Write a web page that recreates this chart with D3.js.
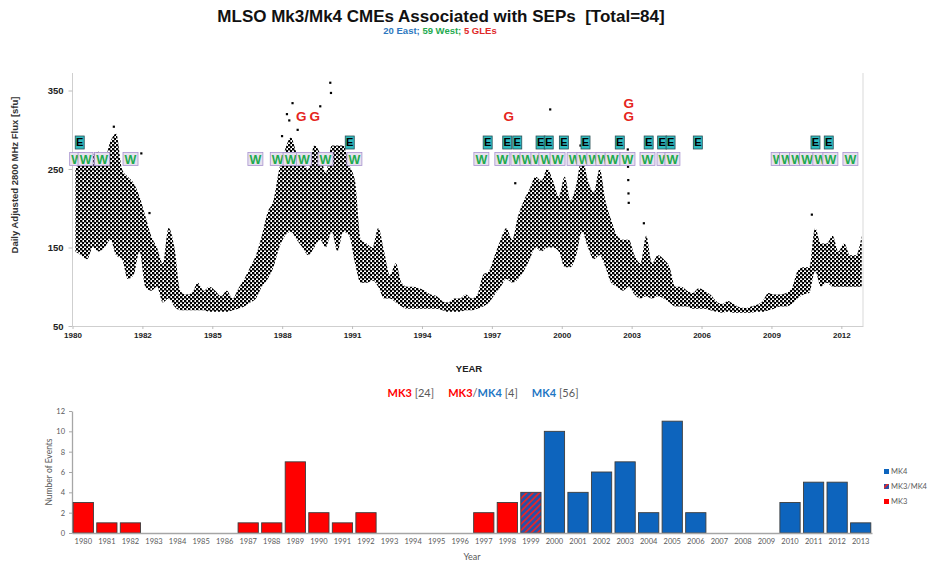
<!DOCTYPE html>
<html>
<head>
<meta charset="utf-8">
<script src="https://cdn.jsdelivr.net/npm/d3@7"></script>
<style>
  body { margin: 0; background: #fff; }
</style>
</head>
<body>
<div id="chart"></div>
<script>
// Daily flux scatter, read per quarter year: lower and upper edge of the cloud [sfu]
const fluxStartYear = 1980;
const fluxLo = [
  145, 140, 135, 150,  145, 150, 160, 140,  135, 110, 115, 145,  100, 95, 100, 80,
  85, 75, 70, 70,      70, 70, 70, 68,      68, 68, 68, 70,      72, 75, 80, 85,
  100, 110, 125, 150,  165, 170, 160, 150,  140, 150, 160, 150,  170, 145, 170, 165,
  130, 105, 105, 108,  100, 85, 85, 80,     75, 72, 72, 72,      72, 72, 72, 70,
  68, 68, 68, 70,      70, 72, 75, 80,      90, 100, 110, 105,   110, 120, 135, 150,
  145, 150, 150, 145,  125, 125, 140, 170,  150, 135, 140, 125,  105, 100, 95, 100,
  90, 85, 88, 85,      88, 85, 80, 75,      75, 75, 72, 72,      72, 70, 68, 67,
  68, 67, 67, 67,      67, 68, 68, 70,      72, 75, 75, 78,      85, 90, 92, 120,
  100, 105, 100, 100,  100, 100, 100, 100
];
const fluxHi = [
  250, 260, 262, 268,  272, 262, 285, 295,  250, 240, 232, 215,  190, 165, 150, 130,
  175, 150, 95, 90,    92, 105, 95, 100,    95, 88, 95, 85,      98, 110, 125, 140,
  165, 195, 210, 250,  275, 290, 270, 260,  250, 280, 270, 245,  280, 280, 280, 255,
  235, 160, 155, 150,  175, 145, 115, 130,  105, 100, 100, 98,   95, 90, 88, 82,
  80, 85, 85, 90,      85, 90, 115, 120,    140, 160, 175, 160,  190, 210, 225, 240,
  235, 250, 235, 215,  240, 210, 230, 265,  235, 220, 250, 210,  185, 165, 160, 160,
  140, 130, 165, 130,  140, 135, 125, 100,  100, 95, 92, 98,     95, 90, 82, 78,
  82, 78, 74, 73,      75, 77, 82, 92,      90, 90, 92, 98,      120, 125, 125, 175,
  155, 155, 165, 145,  155, 140, 140, 165
];
// Isolated daily values standing out of the cloud [year, sfu]
const fluxSpikes = [
  [1981.77, 304], [1982.95, 270], [1983.30, 194], [1988.99, 292], [1989.20, 320],
  [1989.30, 312], [1989.44, 334], [1989.66, 300], [1990.63, 330], [1991.06, 360],
  [1991.09, 347], [1999.00, 232], [2000.50, 326], [2001.80, 280], [2003.83, 275],
  [2003.84, 253], [2003.85, 236], [2003.86, 219], [2003.87, 207], [2004.52, 181],
  [2011.73, 192]
];

// SEP event markers (decimal year)
const eastYears = [1980.31, 1991.90, 1997.82, 1998.66, 1999.09, 2000.09, 2000.44, 2001.09,
  2002.02, 2003.49, 2004.73, 2005.31, 2005.67, 2006.84, 2011.89, 2012.46];
const westYears = [1980.20, 1980.56, 1981.27, 1982.49,
  1987.85, 1988.81, 1989.36, 1989.93, 1990.86, 1992.10,
  1997.55, 1998.45, 1999.14, 1999.53, 2000.00, 2000.34, 2000.82, 2001.55, 2001.97,
  2002.40, 2002.79, 2003.18, 2003.82, 2004.68, 2005.41, 2005.75,
  2010.31, 2010.67, 2011.10, 2011.53, 2012.10, 2012.53, 2013.39];
const gleYears = [1989.82, 1990.40, 1998.73, 2003.88, 2003.88];

const fluxTickYears = [1980, 1983, 1986, 1989, 1992, 1995, 1998, 2001, 2004, 2007, 2010, 2013];
const fluxTickLabels = ['1980', '1982', '1985', '1988', '1991', '1994', '1997', '2000', '2003', '2006', '2009', '2012'];
const fluxTicksY = [50, 150, 250, 350];

// Yearly counts of CMEs by instrument
const barYears = ['1980', '1981', '1982', '1983', '1984', '1985', '1986', '1987', '1988', '1989',
  '1990', '1991', '1992', '1993', '1994', '1995', '1996', '1997', '1998', '1999',
  '2000', '2001', '2002', '2003', '2004', '2005', '2006', '2007', '2008', '2009',
  '2010', '2011', '2012', '2013'];
const barCounts = [3, 1, 1, 0, 0, 0, 0, 1, 1, 7, 2, 1, 2, 0, 0, 0, 0, 2, 3, 4,
  10, 4, 6, 7, 2, 11, 2, 0, 0, 0, 3, 5, 5, 1];
const barInstrument = ['MK3', 'MK3', 'MK3', 'MK3', 'MK3', 'MK3', 'MK3', 'MK3', 'MK3', 'MK3',
  'MK3', 'MK3', 'MK3', 'MK3', 'MK3', 'MK3', 'MK3', 'MK3', 'MK3', 'MK3/MK4',
  'MK4', 'MK4', 'MK4', 'MK4', 'MK4', 'MK4', 'MK4', 'MK4', 'MK4', 'MK4',
  'MK4', 'MK4', 'MK4', 'MK4'];
const legendKeys = ['MK4', 'MK3/MK4', 'MK3'];

const RED = '#ff0000';
const BLUE = '#0d64bd';
const GRAY = '#595959';
const ARIAL = "'Liberation Sans', Arial, sans-serif";
const CALIBRI = "Lato, 'Open Sans', sans-serif";

const svg = d3.select('#chart')
  .append('svg')
  .attr('width', 928)
  .attr('height', 564);

const defs = svg.append('defs');

// staggered speckle that stands in for the dense daily dots
const speckle = defs.append('pattern')
  .attr('id', 'speckle')
  .attr('width', 4)
  .attr('height', 4)
  .attr('patternUnits', 'userSpaceOnUse');
speckle.append('rect').attr('x', 0).attr('y', 0).attr('width', 2.4).attr('height', 2.4).attr('fill', '#000');
speckle.append('rect').attr('x', 2).attr('y', 2).attr('width', 2.4).attr('height', 2.4).attr('fill', '#000');

const hatch = defs.append('pattern')
  .attr('id', 'hatch')
  .attr('width', 4.5)
  .attr('height', 4.5)
  .attr('patternUnits', 'userSpaceOnUse')
  .attr('patternTransform', 'rotate(45)');
hatch.append('rect').attr('width', 4.5).attr('height', 4.5).attr('fill', '#2553a8');
hatch.append('rect').attr('width', 1.8).attr('height', 4.5).attr('fill', '#e3262a');

const fillFor = k => (k === 'MK3' ? RED : k === 'MK4' ? BLUE : 'url(#hatch)');

/**
 * Titles above the flux panel
 */
function drawTitles() {
  svg.append('text')
    .attr('x', 441)
    .attr('y', 22)
    .attr('text-anchor', 'middle')
    .attr('xml:space', 'preserve')
    .style('font-family', ARIAL)
    .style('font-size', '17px')
    .style('font-weight', 'bold')
    .style('fill', '#111')
    .text('MLSO Mk3/Mk4 CMEs Associated with SEPs  [Total=84]');

  const sub = svg.append('text')
    .attr('x', 440)
    .attr('y', 33.5)
    .attr('text-anchor', 'middle')
    .style('font-family', ARIAL)
    .style('font-size', '9.5px')
    .style('font-weight', 'bold');
  sub.append('tspan').style('fill', '#2e78c0').text('20 East; ');
  sub.append('tspan').style('fill', '#1faa4f').text('59 West; ');
  sub.append('tspan').style('fill', '#e02a2a').text('5 GLEs');
}

/**
 * Top panel: radio flux with event markers
 */
function drawFluxPanel() {
  const x = d3.scaleLinear().domain([1980, 2013.93]).range([72.5, 863]);
  const y = d3.scaleLinear().domain([50, 350]).range([326, 90.5]);
  const top = 73;

  // frame lines
  svg.append('line')
    .attr('x1', 863).attr('x2', 863).attr('y1', top).attr('y2', 326)
    .attr('stroke', '#d9d9d9');

  const yAxis = svg.append('g')
    .attr('transform', 'translate(72.5,0)')
    .call(d3.axisLeft(y).tickValues(fluxTicksY).tickSize(4).tickSizeOuter(0));
  yAxis.select('.domain').attr('d', `M0,${top}V326`).attr('stroke', '#cfcfcf');
  yAxis.selectAll('.tick line').attr('stroke', '#bdbdbd');
  yAxis.selectAll('text')
    .style('font-family', ARIAL)
    .style('font-size', '9.5px')
    .style('font-weight', 'bold')
    .style('fill', '#222')
    .attr('x', -9);

  const xAxis = svg.append('g')
    .attr('transform', 'translate(0,326)')
    .call(d3.axisBottom(x)
      .tickValues(fluxTickYears)
      .tickFormat((d, i) => fluxTickLabels[i])
      .tickSize(3)
      .tickSizeOuter(0));
  xAxis.select('.domain').attr('stroke', '#cfcfcf');
  xAxis.selectAll('.tick line').attr('stroke', '#bdbdbd');
  xAxis.selectAll('text')
    .style('font-family', "'Liberation Sans Narrow', " + ARIAL)
    .style('font-size', '8px')
    .style('font-weight', 'bold')
    .style('fill', '#222');

  svg.append('text')
    .attr('transform', 'translate(18,175)rotate(-90)')
    .attr('text-anchor', 'middle')
    .style('font-family', ARIAL)
    .style('font-size', '9.5px')
    .style('font-weight', 'bold')
    .style('fill', '#333')
    .text('Daily Adjusted 2800 MHz Flux [sfu]');

  svg.append('text')
    .attr('x', 469)
    .attr('y', 372)
    .attr('text-anchor', 'middle')
    .style('font-family', ARIAL)
    .style('font-size', '9.5px')
    .style('font-weight', 'bold')
    .style('fill', '#222')
    .text('YEAR');

  // flux cloud
  const band = d3.area()
    .x((d, i) => x(fluxStartYear + i * 0.25 + 0.125))
    .y0(d => y(d[0]))
    .y1(d => y(d[1]))
    .curve(d3.curveMonotoneX);

  svg.append('path')
    .datum(d3.zip(fluxLo, fluxHi))
    .attr('d', band)
    .attr('fill', 'url(#speckle)');

  svg.selectAll('.spike')
    .data(fluxSpikes)
    .enter()
    .append('rect')
    .attr('class', 'spike')
    .attr('x', d => x(d[0]) - 1)
    .attr('y', d => y(d[1]) - 1)
    .attr('width', 2.2)
    .attr('height', 2.2)
    .attr('fill', '#000');

  // West events
  const w = svg.selectAll('.west')
    .data(westYears)
    .enter()
    .append('g')
    .attr('class', 'west')
    .attr('transform', d => `translate(${x(d)},159)`);
  w.append('rect')
    .attr('x', -7.5).attr('y', -6.5)
    .attr('width', 15).attr('height', 13)
    .attr('fill', '#e6e1ee')
    .attr('stroke', '#a893cf')
    .attr('stroke-width', 0.8);
  w.append('text')
    .attr('text-anchor', 'middle')
    .attr('dy', '0.36em')
    .style('font-family', ARIAL)
    .style('font-size', '12.5px')
    .style('font-weight', 'bold')
    .style('fill', '#1faa4f')
    .text('W');

  // East events
  const e = svg.selectAll('.east')
    .data(eastYears)
    .enter()
    .append('g')
    .attr('class', 'east')
    .attr('transform', d => `translate(${x(d)},142.5)`);
  e.append('rect')
    .attr('x', -4.5).attr('y', -6.5)
    .attr('width', 9).attr('height', 13)
    .attr('fill', '#2fbcbf')
    .attr('stroke', '#2b4f55')
    .attr('stroke-width', 0.8);
  e.append('text')
    .attr('text-anchor', 'middle')
    .attr('dy', '0.36em')
    .style('font-family', ARIAL)
    .style('font-size', '11px')
    .style('font-weight', 'bold')
    .style('fill', '#000')
    .text('E');

  // GLEs, stacked when they share a date
  svg.selectAll('.gle')
    .data(gleYears)
    .enter()
    .append('text')
    .attr('class', 'gle')
    .attr('x', d => x(d))
    .attr('y', (d, i) => 116.5 - 13.4 * gleYears.slice(0, i).filter(v => v === d).length)
    .attr('dy', '0.36em')
    .attr('text-anchor', 'middle')
    .style('font-family', ARIAL)
    .style('font-size', '13.5px')
    .style('font-weight', 'bold')
    .style('fill', '#e52420')
    .text('G');
}

/**
 * Bottom panel: yearly event counts by instrument
 */
function drawCountPanel() {
  const x = d3.scaleBand()
    .domain(barYears)
    .range([72, 872])
    .paddingInner(0.14)
    .paddingOuter(0.05);
  const y = d3.scaleLinear().domain([0, 12]).range([533, 411]);

  // header with totals
  const head = svg.append('text')
    .attr('x', 483)
    .attr('y', 397)
    .attr('text-anchor', 'middle')
    .attr('xml:space', 'preserve')
    .style('font-family', CALIBRI)
    .style('font-size', '11px');
  const parts = [
    ['MK3', RED, 'bold'], [' [24]     ', GRAY, 'normal'],
    ['MK3', RED, 'bold'], ['/', GRAY, 'normal'], ['MK4', '#1f77c4', 'bold'], [' [4]     ', GRAY, 'normal'],
    ['MK4', '#1f77c4', 'bold'], [' [56]', GRAY, 'normal']
  ];
  parts.forEach(p => {
    head.append('tspan').style('fill', p[1]).style('font-weight', p[2]).text(p[0]);
  });

  const yAxis = svg.append('g')
    .attr('transform', 'translate(72,0)')
    .call(d3.axisLeft(y).tickValues(d3.range(0, 13, 2)).tickSize(3).tickSizeOuter(0));
  yAxis.select('.domain').attr('stroke', '#a6a6a6').attr('stroke-width', 1.3);
  yAxis.selectAll('.tick line').attr('stroke', '#a6a6a6');
  yAxis.selectAll('text')
    .style('font-family', CALIBRI)
    .style('font-size', '7.5px')
    .style('fill', GRAY)
    .attr('x', -7);

  svg.append('text')
    .attr('transform', 'translate(52,472)rotate(-90)')
    .attr('text-anchor', 'middle')
    .style('font-family', CALIBRI)
    .style('font-size', '8.5px')
    .style('fill', GRAY)
    .text('Number of Events');

  // bars
  svg.selectAll('.bar')
    .data(barCounts)
    .enter()
    .append('rect')
    .attr('class', 'bar')
    .attr('x', (d, i) => x(barYears[i]))
    .attr('y', d => y(d))
    .attr('width', x.bandwidth())
    .attr('height', d => y(0) - y(d))
    .attr('fill', (d, i) => fillFor(barInstrument[i]))
    .attr('stroke', '#3d3d3d')
    .attr('stroke-width', 0.9);

  const xAxis = svg.append('g')
    .attr('transform', 'translate(0,533)')
    .call(d3.axisBottom(x).tickSize(0).tickSizeOuter(0).tickPadding(6));
  xAxis.select('.domain').attr('stroke', '#a6a6a6').attr('stroke-width', 1.6);
  xAxis.selectAll('text')
    .style('font-family', CALIBRI)
    .style('font-size', '7.5px')
    .style('fill', GRAY);

  svg.append('text')
    .attr('x', 472)
    .attr('y', 560)
    .attr('text-anchor', 'middle')
    .style('font-family', CALIBRI)
    .style('font-size', '9px')
    .style('fill', GRAY)
    .text('Year');

  // legend
  const leg = svg.selectAll('.legend')
    .data(legendKeys)
    .enter()
    .append('g')
    .attr('class', 'legend')
    .attr('transform', (d, i) => `translate(884,${471.5 + i * 15})`);
  leg.append('rect')
    .attr('x', 0).attr('y', -2.5)
    .attr('width', 5).attr('height', 5)
    .attr('fill', d => fillFor(d));
  leg.append('text')
    .attr('x', 7)
    .attr('dy', '0.35em')
    .style('font-family', CALIBRI)
    .style('font-size', '7.5px')
    .style('fill', GRAY)
    .text(d => d);
}

drawTitles();
drawFluxPanel();
drawCountPanel();
</script>
</body>
</html>
